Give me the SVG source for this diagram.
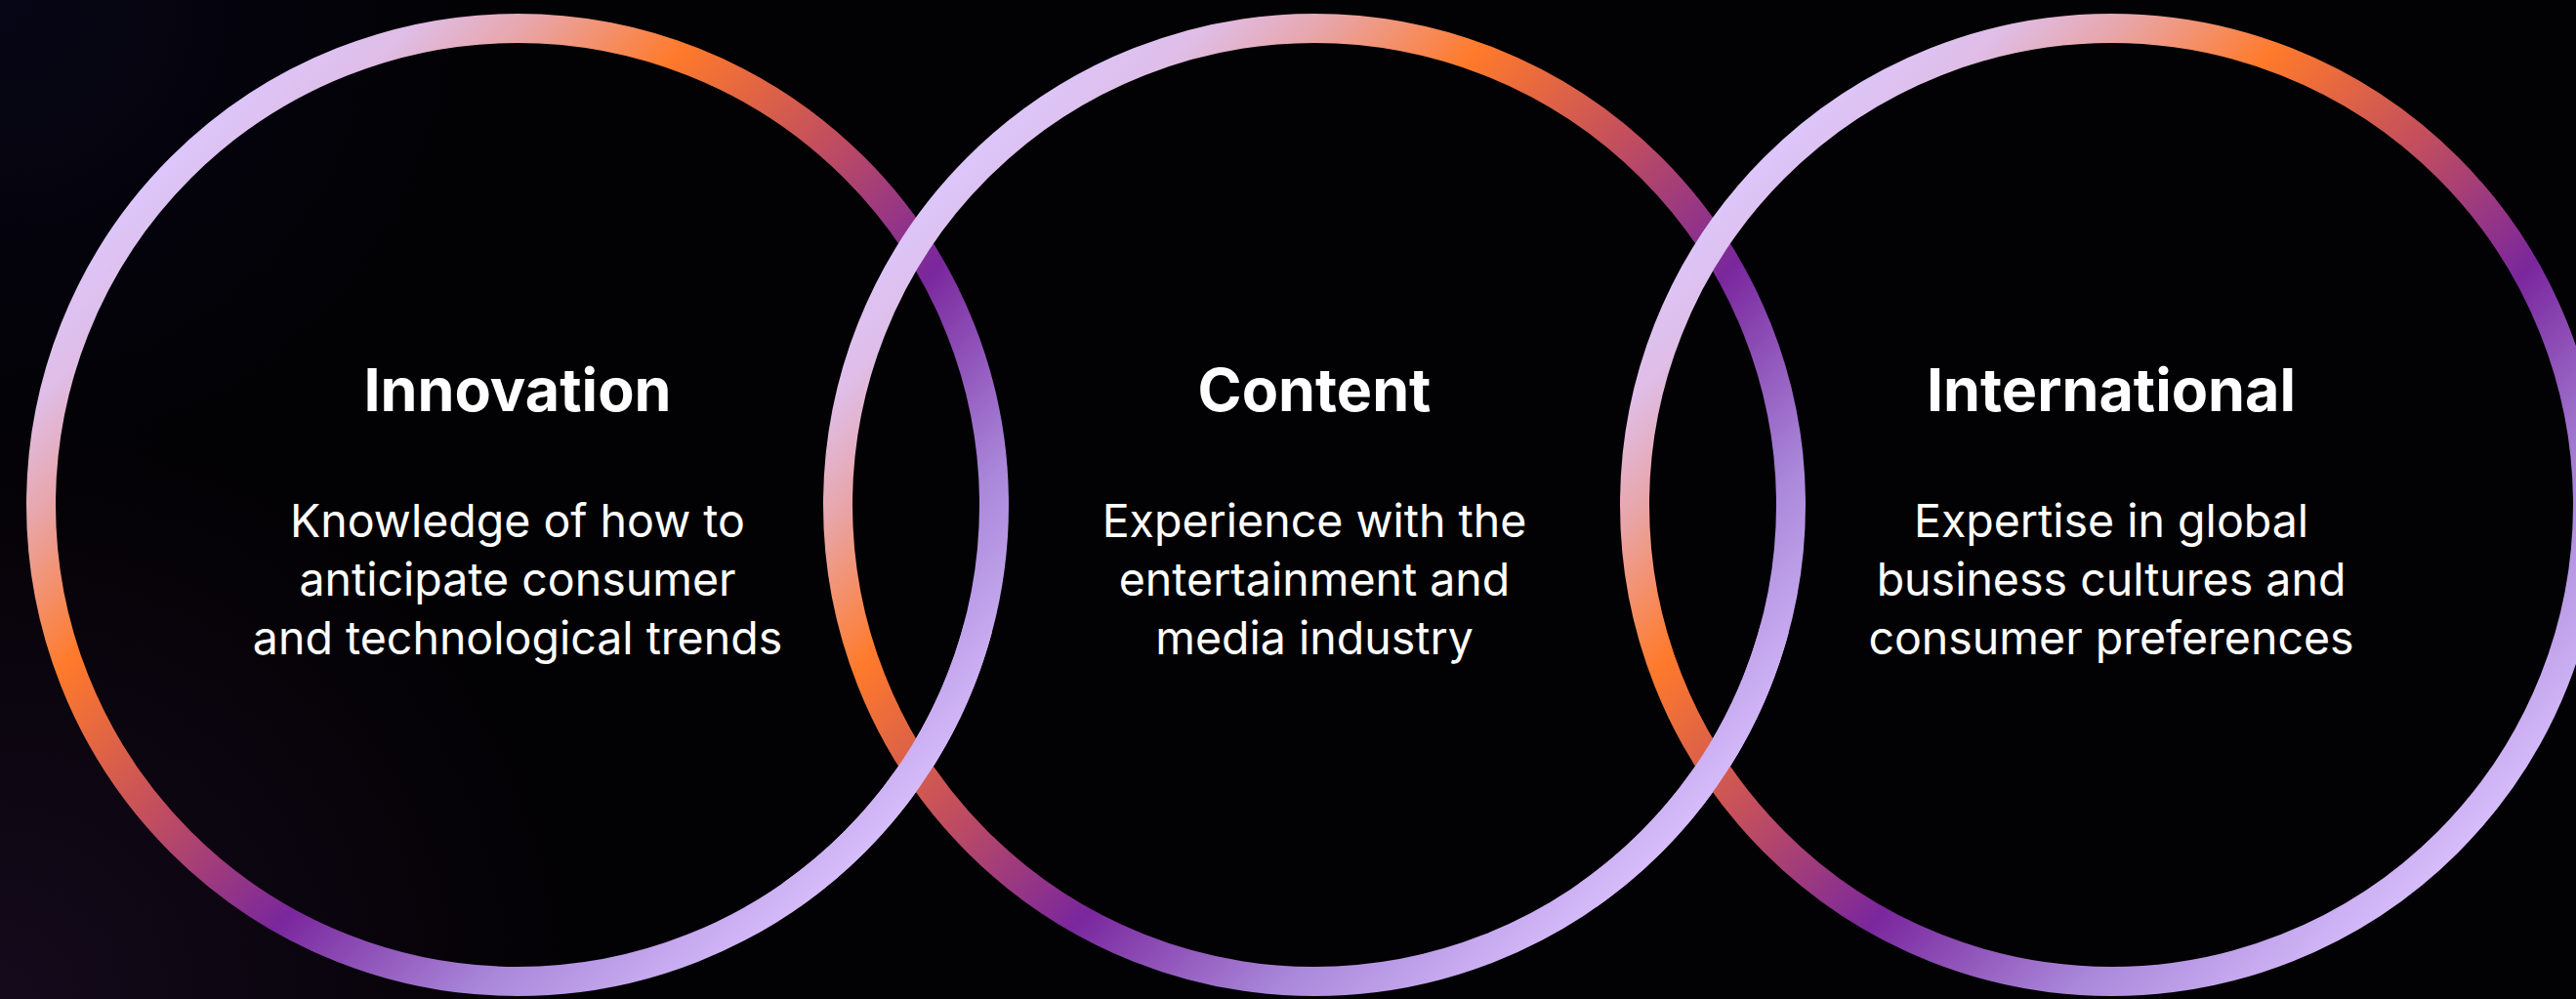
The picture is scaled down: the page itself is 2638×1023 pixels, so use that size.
<svg xmlns="http://www.w3.org/2000/svg" width="2638" height="1023" viewBox="0 0 2638 1023">
  <defs>
    <linearGradient id="ring" gradientUnits="userSpaceOnUse" x1="-356" y1="-356" x2="356" y2="356">
      <stop offset="0" stop-color="#dcc6fb"/>
      <stop offset="0.08" stop-color="#dfbde6"/>
      <stop offset="0.16" stop-color="#e8a6ab"/>
      <stop offset="0.29" stop-color="#ff7a2b"/>
      <stop offset="0.46" stop-color="#c24e5e"/>
      <stop offset="0.63" stop-color="#7a279d"/>
      <stop offset="0.82" stop-color="#a987da"/>
      <stop offset="1" stop-color="#d7bdfb"/>
    </linearGradient>
    <radialGradient id="glowBL" cx="0" cy="1023" r="600" gradientUnits="userSpaceOnUse">
      <stop offset="0" stop-color="#150a1c"/>
      <stop offset="1" stop-color="#150a1c" stop-opacity="0"/>
    </radialGradient>
    <radialGradient id="glowTL" cx="0" cy="0" r="500" gradientUnits="userSpaceOnUse">
      <stop offset="0" stop-color="#070616"/>
      <stop offset="1" stop-color="#070616" stop-opacity="0"/>
    </radialGradient>
  </defs>
  <style>
    .ring { fill: none; stroke: url(#ring); stroke-width: 30; }
    .title { font-family: Inter, "Noto Sans", "Liberation Sans", sans-serif; font-weight: 700; font-size: 61px; fill: #ffffff; text-anchor: middle; }
    .body { font-family: Inter, "Noto Sans", "Liberation Sans", sans-serif; font-weight: 400; font-size: 46.5px; fill: #ffffff; text-anchor: middle; }
  </style>
  <rect width="2638" height="1023" fill="#020103"/>
  <rect width="2638" height="1023" fill="url(#glowBL)"/>
  <rect width="2638" height="1023" fill="url(#glowTL)"/>

  <g id="innovation" transform="translate(530 517)">
    <circle class="ring" cx="0" cy="0" r="488"/>
    <text class="title" x="0" y="-96">Innovation</text>
    <text class="body" x="0" y="33">Knowledge of how to</text>
    <text class="body" x="0" y="93">anticipate consumer</text>
    <text class="body" x="0" y="153">and technological trends</text>
  </g>
  <g id="content" transform="translate(1346 517)">
    <circle class="ring" cx="0" cy="0" r="488"/>
    <text class="title" x="0" y="-96">Content</text>
    <text class="body" x="0" y="33">Experience with the</text>
    <text class="body" x="0" y="93">entertainment and</text>
    <text class="body" x="0" y="153">media industry</text>
  </g>
  <g id="international" transform="translate(2162 517)">
    <circle class="ring" cx="0" cy="0" r="488"/>
    <text class="title" x="0" y="-96">International</text>
    <text class="body" x="0" y="33">Expertise in global</text>
    <text class="body" x="0" y="93">business cultures and</text>
    <text class="body" x="0" y="153">consumer preferences</text>
  </g>

  <g id="connectors">
    <path class="ring" transform="translate(530 517)" d="M 471.4 126.3 A 488 488 0 0 1 279.9 399.7"/>
    <path class="ring" transform="translate(1346 517)" d="M 471.4 126.3 A 488 488 0 0 1 279.9 399.7"/>
  </g>
</svg>
